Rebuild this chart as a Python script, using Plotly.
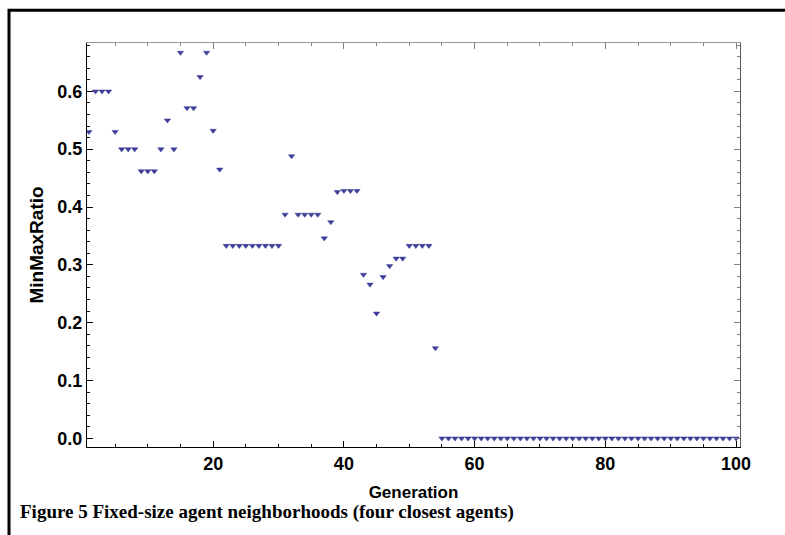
import plotly.graph_objects as go

# MinMaxRatio per generation, fixed-size neighbourhoods (four closest agents)
generations = list(range(1, 101))
ratio_early = [0.53, 0.6, 0.6, 0.6, 0.53, 0.5, 0.5, 0.5, 0.462, 0.462,
               0.462, 0.5, 0.55, 0.5, 0.667, 0.571, 0.571, 0.625, 0.667, 0.532,
               0.465]
ratio_mid = [0.333] * 9 + [0.387, 0.488, 0.387, 0.387, 0.387, 0.387,
             0.346, 0.374, 0.426, 0.428, 0.428, 0.428,
             0.283, 0.266, 0.216, 0.279, 0.298, 0.311, 0.311,
             0.333, 0.333, 0.333, 0.333, 0.156]
ratio_late = [0.0] * 46
min_max_ratio = ratio_early + ratio_mid + ratio_late

x_ticks = [20, 40, 60, 80, 100]
y_ticks = [0.0, 0.1, 0.2, 0.3, 0.4, 0.5, 0.6]
y_tick_text = ["0.0", "0.1", "0.2", "0.3", "0.4", "0.5", "0.6"]

point_color = "rgb(61,61,153)"
sans = "Liberation Sans, Arial, sans-serif"
tick_font = dict(family=sans, size=18, color="black")

fig = go.Figure()
fig.add_trace(go.Scatter(
    x=generations, y=min_max_ratio, mode="markers",
    marker=dict(symbol="triangle-down", size=5.5, color=point_color,
                line=dict(width=0.5, color=point_color)),
    showlegend=False, cliponaxis=True,
))
# invisible trace that carries the top/right frame axes
fig.add_trace(go.Scatter(x=[None], y=[None], xaxis="x2", yaxis="y2", showlegend=False))

x_range = [0.7, 100.6]
y_range = [-0.015, 0.6836]

fig.update_layout(
    width=785, height=535,
    margin=dict(l=87, r=45, t=43, b=88),
    paper_bgcolor="white", plot_bgcolor="white",
    xaxis=dict(
        range=x_range, tickvals=x_ticks, ticktext=[f"<b>{v}</b>" for v in x_ticks],
        ticks="inside", ticklen=6, tickwidth=1, tickcolor="black",
        minor=dict(dtick=5, tick0=0, ticks="inside", ticklen=3, tickcolor="black"),
        showline=True, linecolor="black", linewidth=1, mirror=False,
        showgrid=False, zeroline=False, tickfont=tick_font,
        title=dict(text="<b>Generation</b>", font=dict(family=sans, size=17, color="black"),
                   standoff=13),
    ),
    yaxis=dict(
        range=y_range, tickvals=y_ticks, ticktext=[f"<b>{t}</b>" for t in y_tick_text],
        ticks="inside", ticklen=6, tickwidth=1, tickcolor="black",
        minor=dict(dtick=0.02, tick0=0, ticks="inside", ticklen=3, tickcolor="black"),
        showline=True, linecolor="black", linewidth=1, mirror=False,
        showgrid=False, zeroline=False, tickfont=tick_font,
        title=dict(text="<b>MinMaxRatio</b>", font=dict(family=sans, size=19, color="black"),
                   standoff=8),
    ),
    xaxis2=dict(
        range=x_range, overlaying="x", side="top", showticklabels=False,
        tickvals=x_ticks, ticks="inside", ticklen=6, tickcolor="gray",
        minor=dict(dtick=5, tick0=0, ticks="inside", ticklen=3, tickcolor="gray"),
        showline=True, linecolor="rgb(150,150,150)", linewidth=1,
        showgrid=False, zeroline=False,
    ),
    yaxis2=dict(
        range=y_range, overlaying="y", side="right", showticklabels=False,
        tickvals=y_ticks, ticks="inside", ticklen=6, tickcolor="gray",
        minor=dict(dtick=0.02, tick0=0, ticks="inside", ticklen=3, tickcolor="gray"),
        showline=True, linecolor="rgb(90,90,90)", linewidth=1,
        showgrid=False, zeroline=False,
    ),
)

# figure caption
fig.add_annotation(
    text="<b>Figure 5 Fixed-size agent neighborhoods (four closest agents)</b>",
    xref="paper", yref="paper", x=(18 - 87) / 653, y=-(512 - 446.7) / 404,
    xanchor="left", yanchor="middle", showarrow=False,
    font=dict(family="Liberation Serif, Times New Roman, serif", size=19, color="black"),
)
# outer frame around the figure
fig.add_shape(type="rect", xref="paper", yref="paper",
              x0=-78 / 653, x1=(785 - 87 + 10) / 653,
              y0=-(535 - 446.7 + 10) / 404, y1=(446.7 - 10) / 404,
              line=dict(color="black", width=3), fillcolor="rgba(0,0,0,0)", layer="above")

fig.write_html("out.html")
